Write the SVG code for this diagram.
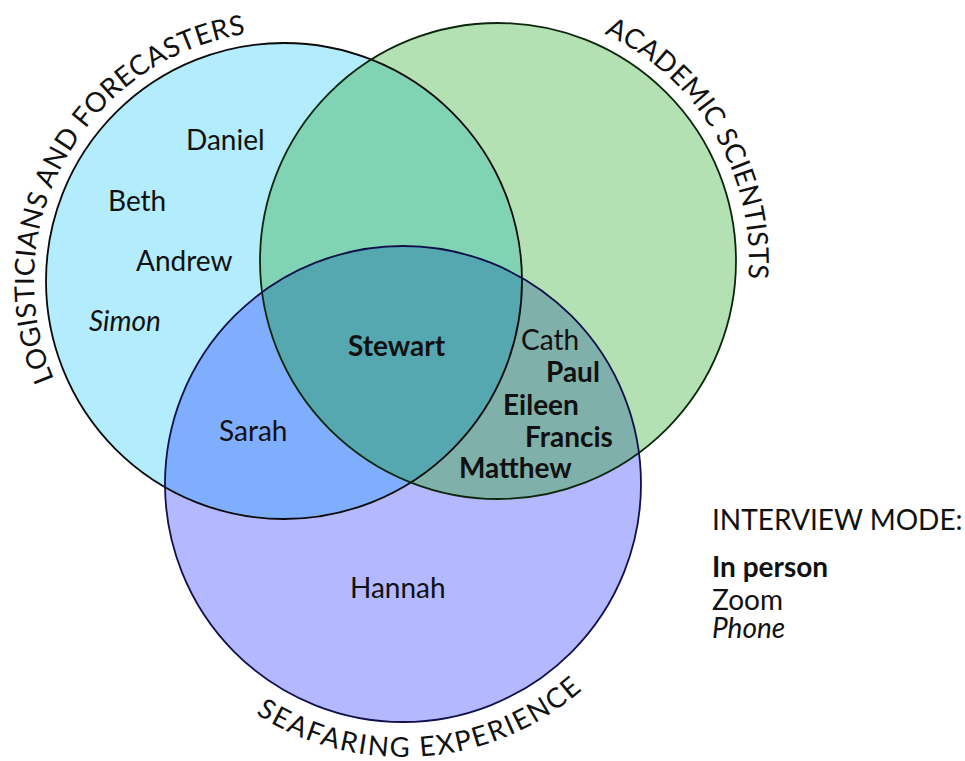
<svg xmlns="http://www.w3.org/2000/svg" width="965" height="761" viewBox="0 0 965 761">
<style>
.t{font-family:Lato,"Liberation Sans",sans-serif;font-size:28px;fill:#111}
.b{font-weight:bold}
.i{font-style:italic}
.arc{font-family:Lato,"Liberation Sans",sans-serif;font-size:27.5px;fill:#111}
.ring{fill:none;stroke-width:1.8}
</style>
<defs>
<clipPath id="cA"><circle cx="284" cy="281" r="238"/></clipPath>
<clipPath id="cB"><circle cx="498" cy="261" r="238"/></clipPath>
<path id="pA" d="M67.5,406 A250,250 0 0 1 327.4,34.8"/>
<path id="pB" d="M563,18.6 A251,251 0 0 1 740.4,326"/>
<path id="pC" d="M227.5,693.1 A273,273 0 0 0 612.1,659.5"/>
</defs>
<rect width="965" height="761" fill="#fff"/>
<g id="fills">
<circle cx="284" cy="281" r="238" fill="#b2ecfd"/>
<circle cx="498" cy="261" r="238" fill="#b3e1b3"/>
<circle cx="403" cy="484" r="238" fill="#b3b8ff"/>
<circle cx="498" cy="261" r="238" fill="#80d4b4" clip-path="url(#cA)"/>
<circle cx="403" cy="484" r="238" fill="#80aeff" clip-path="url(#cA)"/>
<circle cx="403" cy="484" r="238" fill="#80b0aa" clip-path="url(#cB)"/>
<g clip-path="url(#cA)"><circle cx="403" cy="484" r="238" fill="#56a8b0" clip-path="url(#cB)"/></g>
</g>
<g id="set-logisticians">
<circle class="ring" cx="284" cy="281" r="238" stroke="#0a0a0a"/>
<text class="arc"><textPath href="#pA" startOffset="30" textLength="455" lengthAdjust="spacing">LOGISTICIANS AND FORECASTERS</textPath></text>
</g>
<g id="set-academic">
<circle class="ring" cx="498" cy="261" r="238" stroke="#0c260c"/>
<text class="arc"><textPath href="#pB" startOffset="44" textLength="302" lengthAdjust="spacing">ACADEMIC SCIENTISTS</textPath></text>
</g>
<g id="set-seafaring">
<circle class="ring" cx="403" cy="484" r="238" stroke="#10104a"/>
<text class="arc"><textPath href="#pC" startOffset="35" textLength="351" lengthAdjust="spacing">SEAFARING EXPERIENCE</textPath></text>
</g>
<g id="names">
<text class="t" x="186" y="150">Daniel</text>
<text class="t" x="108" y="211">Beth</text>
<text class="t" x="136" y="271">Andrew</text>
<text class="t i" x="89" y="331">Simon</text>
<text class="t b" x="348" y="356">Stewart</text>
<text class="t" x="219" y="441">Sarah</text>
<text class="t" x="350" y="598">Hannah</text>
<text class="t" x="521" y="350">Cath</text>
<text class="t b" x="546" y="382">Paul</text>
<text class="t b" x="503" y="415">Eileen</text>
<text class="t b" x="525" y="447">Francis</text>
<text class="t b" x="459" y="478">Matthew</text>
</g>
<g id="legend">
<text class="t" x="712" y="530">INTERVIEW MODE:</text>
<text class="t b" x="712" y="577">In person</text>
<text class="t" x="712" y="610">Zoom</text>
<text class="t i" x="712" y="638">Phone</text>
</g>
</svg>
